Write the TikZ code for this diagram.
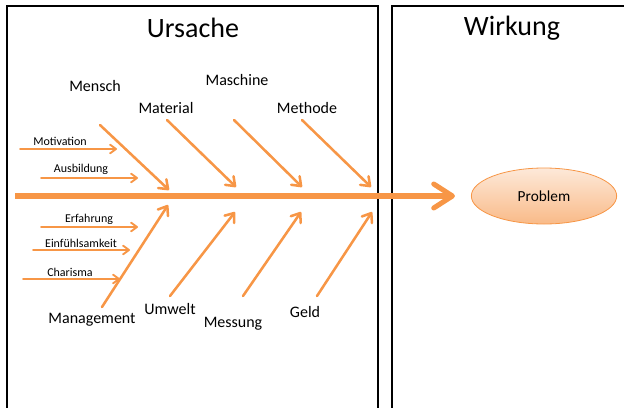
\documentclass[tikz,border=0pt]{standalone}
\usepackage{fontspec}
\setmainfont{Carlito}
\usetikzlibrary{arrows.meta, shapes.geometric}

\definecolor{fishorange}{HTML}{F79646}
\definecolor{eggtop}{HTML}{FDE9D9}
\definecolor{eggbottom}{HTML}{F9BA88}

\tikzset{
	panel/.style = {draw=black, line width=1.2pt},
	title/.style = {font=\fontsize{21}{24}\selectfont},
	cause/.style = {font=\fontsize{12}{14}\selectfont},
	subcause/.style = {font=\fontsize{9}{11}\selectfont},
	spine/.style = {draw=fishorange, line width=3.8pt, -{Straight Barb[round,length=14pt,width=18pt]}},
	bone/.style = {draw=fishorange, line width=1.9pt, line cap=round, -{Straight Barb[round,length=6pt,width=9pt]}},
	rib/.style = {draw=fishorange, line width=1.4pt, line cap=round, -{Straight Barb[round,length=4.5pt,width=6.5pt]}},
	effect/.style = {ellipse, draw=fishorange, line width=0.6pt, top color=eggtop, bottom color=eggbottom,
		minimum width=109pt, minimum height=42pt, font=\fontsize{11.5}{13}\selectfont}
}

\begin{document}
\begin{tikzpicture}[x=0.75pt, y=-0.75pt]
	\useasboundingbox (0,0) rectangle (624,407);
	\clip (0,0) rectangle (624,407);

	% the two panels
	\draw[panel] (7,420) -- (7,6) -- (378,6) -- (378,420);
	\draw[panel] (392,420) -- (392,6) -- (640,6);
	\node[title] (ursache) at (193,28) {Ursache};
	\node[title] (wirkung) at (512,28) {Wirkung};

	% head
	\node[effect] (problem) at (544,196) {Problem};
	\coordinate (tail) at (15,196);

	% upper bones
	\node[cause] (mensch) at (95,86) {Mensch};
	\node[cause] (maschine) at (237,80) {Maschine};
	\node[cause] (material) at (166,108) {Material};
	\node[cause] (methode) at (307,108) {Methode};
	\coordinate (mensch-s) at (100,125);   \coordinate (mensch-e) at (169,190);
	\coordinate (material-s) at (167,120); \coordinate (material-e) at (236,187);
	\coordinate (maschine-s) at (234,120); \coordinate (maschine-e) at (302,187);
	\coordinate (methode-s) at (302,120);  \coordinate (methode-e) at (371,187);

	% lower bones
	\node[cause] (management) at (92,320) {Management};
	\node[cause] (umwelt) at (170,309) {Umwelt};
	\node[cause] (messung) at (233,324) {Messung};
	\node[cause] (geld) at (305,312) {Geld};
	\coordinate (management-s) at (102,307); \coordinate (management-e) at (168,205);
	\coordinate (umwelt-s) at (170,296);     \coordinate (umwelt-e) at (235,212);
	\coordinate (messung-s) at (243,296);    \coordinate (messung-e) at (301,212);
	\coordinate (geld-s) at (317,296);       \coordinate (geld-e) at (372,212);

	% ribs on Mensch and Management
	\node[subcause] (motivation) at (60,141) {Motivation};
	\node[subcause] (ausbildung) at (81,169) {Ausbildung};
	\node[subcause] (erfahrung) at (89,219) {Erfahrung};
	\node[subcause] (einfuehlsamkeit) at (81,243) {Einfühlsamkeit};
	\node[subcause] (charisma) at (70,272) {Charisma};
	\coordinate (motivation-s) at (20,149);      \coordinate (motivation-e) at (117,149);
	\coordinate (ausbildung-s) at (41,178);      \coordinate (ausbildung-e) at (138,178);
	\coordinate (erfahrung-s) at (41,227);       \coordinate (erfahrung-e) at (138,227);
	\coordinate (einfuehlsamkeit-s) at (33,250); \coordinate (einfuehlsamkeit-e) at (130,250);
	\coordinate (charisma-s) at (23,279);        \coordinate (charisma-e) at (120,279);

	\foreach \b in {mensch,material,maschine,methode,management,umwelt,messung,geld}
		\draw[bone] (\b-s) -- (\b-e);
	\foreach \r in {motivation,ausbildung,erfahrung,einfuehlsamkeit,charisma}
		\draw[rib] (\r-s) -- (\r-e);

	\draw[spine, shorten >=12pt] (tail) -- (problem.west);
\end{tikzpicture}
\end{document}
